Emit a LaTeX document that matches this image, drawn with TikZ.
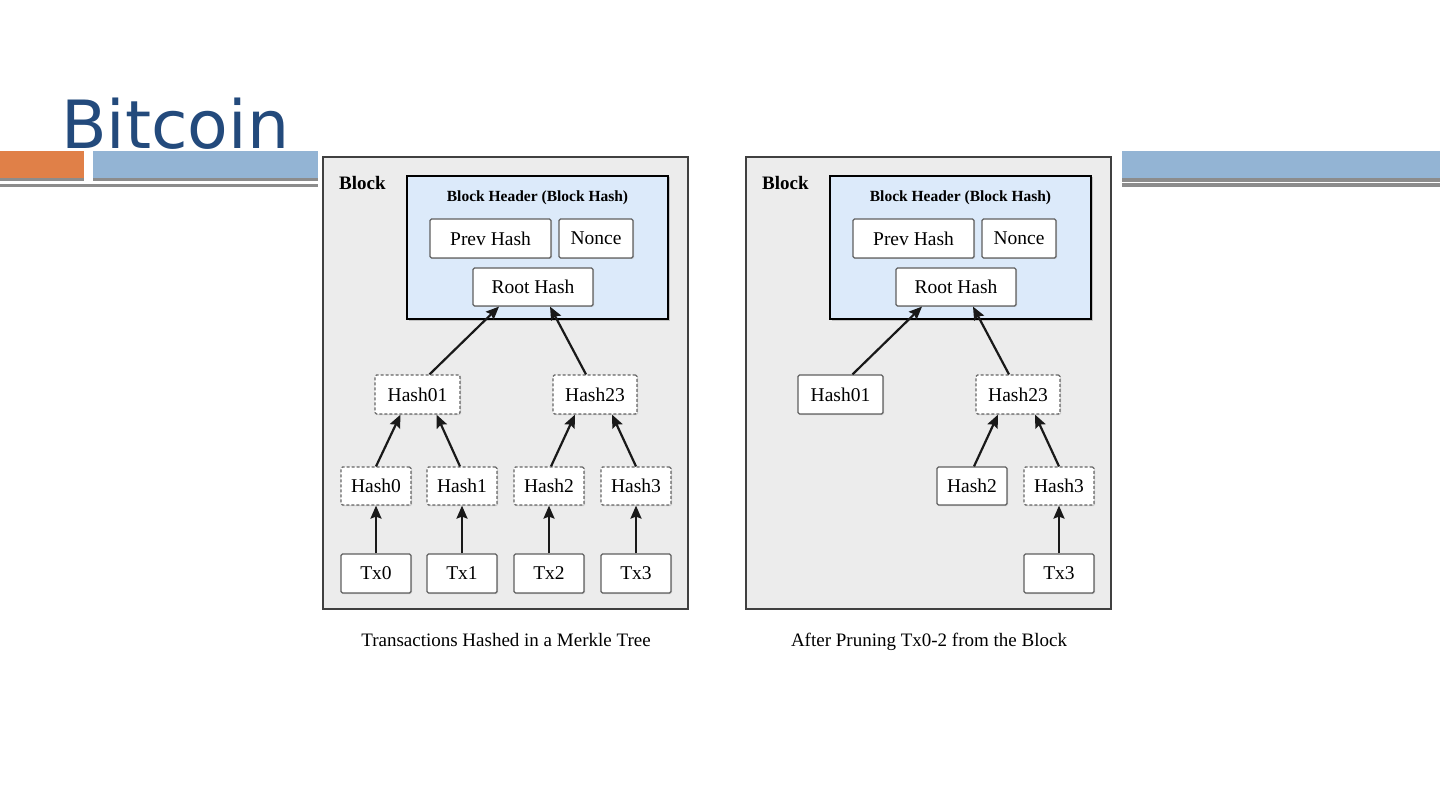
\documentclass[tikz,border=0pt]{standalone}
\usepackage{fontspec}
\setmainfont{Liberation Serif}
\newfontfamily\titlefont{DejaVu Sans}
\usetikzlibrary{positioning, arrows.meta, calc, shadows}

\definecolor{titleblue}{RGB}{35,74,124}
\definecolor{barorange}{RGB}{224,128,72}
\definecolor{barblue}{RGB}{147,180,212}
\definecolor{bargray}{RGB}{140,140,140}
\definecolor{blockgray}{RGB}{236,236,236}
\definecolor{headblue}{RGB}{220,234,250}
\definecolor{boxline}{RGB}{95,95,95}

\tikzset{
  blockframe/.style={draw=black!75, line width=2pt, fill=blockgray},
  headframe/.style={draw=black, line width=2pt, fill=headblue,
    drop shadow={shadow xshift=1.5pt, shadow yshift=-1.5pt, fill=black!40}},
  txbox/.style={draw=boxline, line width=1.2pt, fill=white, rounded corners=1.5pt,
    inner sep=0pt, minimum width=70pt, minimum height=38pt,
    font=\fontsize{19.5}{20}\selectfont,
    drop shadow={shadow xshift=1pt, shadow yshift=-1pt, fill=black!30}},
  hashbox/.style={txbox, dash pattern=on 3pt off 2pt, draw=black!60, drop shadow={opacity=0}},
  arr/.style={-{Stealth[length=13pt, width=11pt, inset=2pt]}, line width=2.2pt, draw=black!90},
  lbl/.style={inner sep=0pt, font=\bfseries\fontsize{19}{19}\selectfont},
  caption/.style={inner sep=0pt, anchor=base, font=\fontsize{19}{20}\selectfont}
}

\begin{document}
\begin{tikzpicture}[x=1pt, y=-1pt]
\useasboundingbox (0,0) rectangle (1440,810);

% --- Titolo e barre ---
\node[anchor=base west, inner sep=0pt, text=titleblue,
  font=\titlefont\fontsize{66.5}{66}\selectfont] (title) at (61,149) {Bitcoin};
\fill[barorange] (0,151.5) rectangle (84,178);
\fill[bargray] (0,178) rectangle (84,181);
\fill[barblue] (93,151.5) rectangle (318,178);
\fill[bargray] (93,178) rectangle (318,181);
\fill[bargray] (0,184) rectangle (318,187);
\fill[barblue] (1122,151.5) rectangle (1440,178);
\fill[bargray] (1122,178) rectangle (1440,182);
\fill[bargray] (1122,183.5) rectangle (1440,187);

% --- Blocco completo ---
\begin{scope}
  \draw[blockframe] (323,157) rectangle (688,609);
  \draw[headframe] (407,176) rectangle (668,319);
  \node[lbl, anchor=base west] (L-block) at (339,190) {Block};
  \node[lbl, anchor=base, font=\bfseries\fontsize{15.5}{16}\selectfont] (L-head) at (537.5,202) {Block Header (Block Hash)};
  \node[txbox, minimum width=121pt, minimum height=39pt] (L-prev) at (490.5,238.5) {Prev Hash};
  \node[txbox, minimum width=74pt, minimum height=39pt] (L-nonce) at (596,238.5) {Nonce};
  \node[txbox, minimum width=120pt] (L-root) at (533,287) {Root Hash};
  \node[hashbox, minimum width=85pt, minimum height=39pt] (L-h01) at (417.5,394.5) {Hash01};
  \node[hashbox, minimum width=84pt, minimum height=39pt] (L-h23) at (595,394.5) {Hash23};
  \node[hashbox] (L-h0) at (376,486) {Hash0};
  \node[hashbox] (L-h1) at (462,486) {Hash1};
  \node[hashbox] (L-h2) at (549,486) {Hash2};
  \node[hashbox] (L-h3) at (636,486) {Hash3};
  \node[txbox, minimum height=39pt] (L-tx0) at (376,573.5) {Tx0};
  \node[txbox, minimum height=39pt] (L-tx1) at (462,573.5) {Tx1};
  \node[txbox, minimum height=39pt] (L-tx2) at (549,573.5) {Tx2};
  \node[txbox, minimum height=39pt] (L-tx3) at (636,573.5) {Tx3};
  \draw[arr] ([xshift=12pt]L-h01.north) -- ([xshift=-34pt]L-root.south);
  \draw[arr] ([xshift=-9pt]L-h23.north) -- ([xshift=17pt]L-root.south);
  \draw[arr] (L-h0.north) -- ([xshift=-17pt]L-h01.south);
  \draw[arr] ([xshift=-2pt]L-h1.north) -- ([xshift=19pt]L-h01.south);
  \draw[arr] ([xshift=2pt]L-h2.north) -- ([xshift=-20pt]L-h23.south);
  \draw[arr] (L-h3.north) -- ([xshift=17pt]L-h23.south);
  \draw[arr] (L-tx0) -- (L-h0);
  \draw[arr] (L-tx1) -- (L-h1);
  \draw[arr] (L-tx2) -- (L-h2);
  \draw[arr] (L-tx3) -- (L-h3);
  \node[caption] (L-cap) at (506,646) {Transactions Hashed in a Merkle Tree};
\end{scope}

% --- Blocco dopo il pruning ---
\begin{scope}[xshift=423pt]
  \draw[blockframe] (323,157) rectangle (688,609);
  \draw[headframe] (407,176) rectangle (668,319);
  \node[lbl, anchor=base west] (R-block) at (339,190) {Block};
  \node[lbl, anchor=base, font=\bfseries\fontsize{15.5}{16}\selectfont] (R-head) at (537.5,202) {Block Header (Block Hash)};
  \node[txbox, minimum width=121pt, minimum height=39pt] (R-prev) at (490.5,238.5) {Prev Hash};
  \node[txbox, minimum width=74pt, minimum height=39pt] (R-nonce) at (596,238.5) {Nonce};
  \node[txbox, minimum width=120pt] (R-root) at (533,287) {Root Hash};
  \node[txbox, minimum width=85pt, minimum height=39pt] (R-h01) at (417.5,394.5) {Hash01};
  \node[hashbox, minimum width=84pt, minimum height=39pt] (R-h23) at (595,394.5) {Hash23};
  \node[txbox] (R-h2) at (549,486) {Hash2};
  \node[hashbox] (R-h3) at (636,486) {Hash3};
  \node[txbox, minimum height=39pt] (R-tx3) at (636,573.5) {Tx3};
  \draw[arr] ([xshift=12pt]R-h01.north) -- ([xshift=-34pt]R-root.south);
  \draw[arr] ([xshift=-9pt]R-h23.north) -- ([xshift=17pt]R-root.south);
  \draw[arr] ([xshift=2pt]R-h2.north) -- ([xshift=-20pt]R-h23.south);
  \draw[arr] (R-h3.north) -- ([xshift=17pt]R-h23.south);
  \draw[arr] (R-tx3) -- (R-h3);
  \node[caption] (R-cap) at (506,646) {After Pruning Tx0-2 from the Block};
\end{scope}
\end{tikzpicture}
\end{document}
